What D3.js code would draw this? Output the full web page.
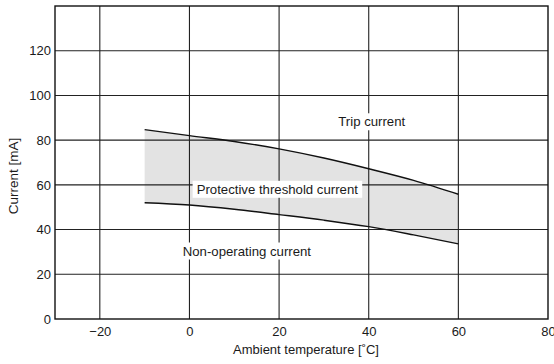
<!DOCTYPE html>
<html>
<head>
<meta charset="utf-8">
<script src="https://cdn.jsdelivr.net/npm/d3@7"></script>
<style>
  body { margin: 0; background: #fff; }
  svg text { font-family: "Liberation Sans", Arial, sans-serif; fill: #1a1a1a; }
</style>
</head>
<body>
<svg width="554" height="364"></svg>
<script>

// DATA

var temps = [-10, 0, 10, 20, 30, 40, 50, 60];
var tripCurrent = [84.7, 82.0, 79.4, 76.1, 72.0, 67.2, 62.0, 55.8];
var nonOperating = [52.0, 51.0, 49.1, 46.7, 44.2, 41.3, 37.6, 33.6];

var xTicks = [-20, 0, 20, 40, 60, 80];
var yTicks = [0, 20, 40, 60, 80, 100, 120];

var labels = [
    { text: "Trip current", t: 33.2, v: 86.2 },
    { text: "Protective threshold current", t: 1.6, v: 56.0 },
    { text: "Non-operating current", t: -1.5, v: 28.4 }
];


var svg = d3.select("svg"),
    margin = { left: 55, right: 6, top: 6, bottom: 45 },
    width = +svg.attr("width") - margin.left - margin.right,
    height = +svg.attr("height") - margin.top - margin.bottom;

var x = d3.scaleLinear().domain([-30, 80]).range([0, width]);
var y = d3.scaleLinear().domain([0, 140]).range([height, 0]);

var g = svg.append("g")
    .attr("transform", "translate(" + margin.left + "," + margin.top + ")");

var rows = temps.map(function (t, i) {
    return { t: t, hi: tripCurrent[i], lo: nonOperating[i] };
});

// shaded band
var area = d3.area()
    .x(function (d) { return x(d.t); })
    .y0(function (d) { return y(d.lo); })
    .y1(function (d) { return y(d.hi); })
    .curve(d3.curveMonotoneX);

g.append("path")
    .datum(rows)
    .attr("d", area)
    .attr("fill", "#e3e3e3");

// grid
g.selectAll(".vgrid")
    .data(xTicks.filter(function (d) { return d < 80; }))
    .enter().append("line")
    .attr("x1", function (d) { return x(d); })
    .attr("x2", function (d) { return x(d); })
    .attr("y1", 0).attr("y2", height)
    .attr("stroke", "#222").attr("stroke-width", 1.1);

g.selectAll(".hgrid")
    .data(yTicks.filter(function (d) { return d > 0; }))
    .enter().append("line")
    .attr("x1", 0).attr("x2", width)
    .attr("y1", function (d) { return y(d); })
    .attr("y2", function (d) { return y(d); })
    .attr("stroke", "#222").attr("stroke-width", 1.1);

// curves
var lineHi = d3.line()
    .x(function (d) { return x(d.t); })
    .y(function (d) { return y(d.hi); })
    .curve(d3.curveMonotoneX);
var lineLo = d3.line()
    .x(function (d) { return x(d.t); })
    .y(function (d) { return y(d.lo); })
    .curve(d3.curveMonotoneX);

g.append("path").datum(rows).attr("d", lineHi)
    .attr("fill", "none").attr("stroke", "#111").attr("stroke-width", 1.4);
g.append("path").datum(rows).attr("d", lineLo)
    .attr("fill", "none").attr("stroke", "#111").attr("stroke-width", 1.4);

// labels with white boxes
var lab = g.selectAll(".lab")
    .data(labels)
    .enter().append("g")
    .attr("transform", function (d) { return "translate(" + x(d.t) + "," + y(d.v) + ")"; });

lab.append("text")
    .attr("font-size", 13.2)
    .text(function (d) { return d.text; });

lab.each(function () {
    var gg = d3.select(this);
    var bb = gg.select("text").node().getBBox();
    gg.insert("rect", "text")
        .attr("x", bb.x - 4).attr("y", bb.y - 1)
        .attr("width", bb.width + 8).attr("height", bb.height + 2)
        .attr("fill", "#fff");
});

// frame
g.append("rect")
    .attr("width", width).attr("height", height)
    .attr("fill", "none").attr("stroke", "#111").attr("stroke-width", 1.4);

// axes
var xAxis = d3.axisBottom(x).tickValues(xTicks).tickSize(0).tickPadding(8)
    .tickFormat(function (d) { return d < 0 ? "\u2212" + Math.abs(d) : d; });
var yAxis = d3.axisLeft(y).tickValues(yTicks).tickSize(0).tickPadding(4);

var gX = g.append("g")
    .attr("transform", "translate(0," + height + ")")
    .call(xAxis);
var gY = g.append("g").call(yAxis);

[gX, gY].forEach(function (a) {
    a.select(".domain").remove();
    a.selectAll("text")
        .attr("font-size", 13)
        .attr("font-family", "Liberation Sans, Arial, sans-serif")
        .attr("fill", "#1a1a1a");
});

svg.append("text")
    .attr("x", 306).attr("y", 354)
    .attr("text-anchor", "middle")
    .attr("font-size", 13)
    .text("Ambient temperature [\u02DAC]");

svg.append("text")
    .attr("transform", "translate(18,176) rotate(-90)")
    .attr("text-anchor", "middle")
    .attr("font-size", 13.5)
    .text("Current [mA]");

</script>
</body>
</html>
